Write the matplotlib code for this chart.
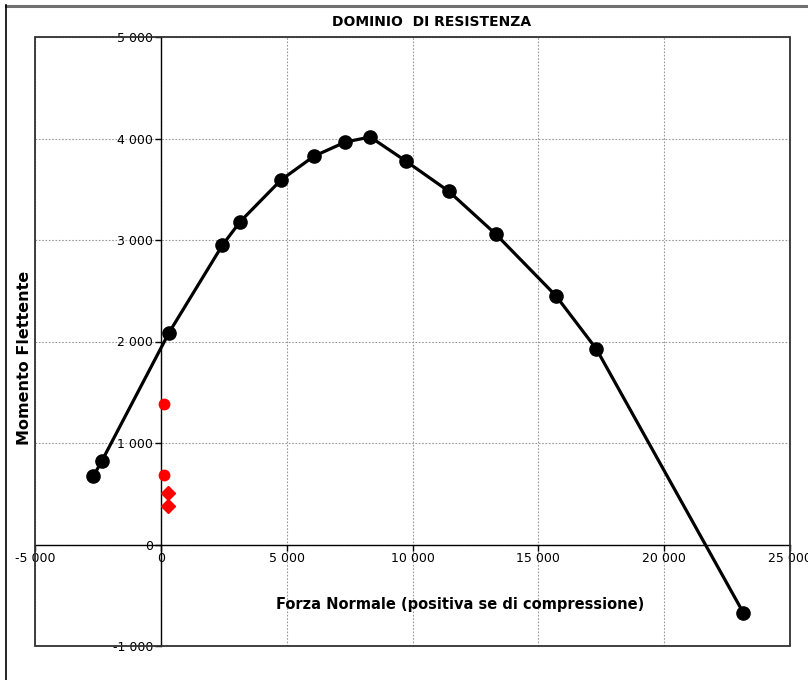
import matplotlib.pyplot as plt
from matplotlib.ticker import FuncFormatter, MultipleLocator
from matplotlib.patches import Rectangle
from matplotlib.lines import Line2D

# Dominio di resistenza (N, M)
forza_normale = [-2690, -2350, 320, 2450, 3150, 4770, 6080, 7330, 8320,
                 9750, 11440, 13320, 15700, 17310, 23140]
momento = [670, 820, 2085, 2950, 3180, 3590, 3825, 3965, 4015,
           3775, 3480, 3055, 2450, 1925, -670]

# Sollecitazioni di verifica
verifica_cerchi_n = [120, 120]
verifica_cerchi_m = [1385, 680]
verifica_rombi_n = [280, 280]
verifica_rombi_m = [505, 378]

plt.rcParams['font.family'] = ['DejaVu Sans']

def fmt_migliaia(v, pos):
    s = '{:,.0f}'.format(v).replace(',', ' ')
    return s

fig = plt.figure(figsize=(8.08, 6.8), dpi=100)

# bordo della figura (solo alto e sinistra visibili)
fig.add_artist(Line2D([5.5 / 808, 1], [1 - 5.5 / 680, 1 - 5.5 / 680],
                      color='#707070', lw=2.2, transform=fig.transFigure))
fig.add_artist(Line2D([5.5 / 808, 5.5 / 808], [0, 1 - 5 / 680],
                      color='black', lw=1.2, transform=fig.transFigure))

ax = fig.add_axes([35 / 808, 1 - 646 / 680, (790 - 35) / 808, (646 - 37) / 680])
ax.set_xlim(-5000, 25000)
ax.set_ylim(-1000, 5000)

ax.xaxis.set_major_locator(MultipleLocator(5000))
ax.yaxis.set_major_locator(MultipleLocator(1000))
ax.xaxis.set_major_formatter(FuncFormatter(fmt_migliaia))
ax.yaxis.set_major_formatter(FuncFormatter(fmt_migliaia))

ax.grid(True, color='#999999', linestyle=(0, (1.5, 1.5)), linewidth=0.8)
ax.set_axisbelow(True)

# assi passanti per lo zero
ax.spines['left'].set_position(('data', 0))
ax.spines['bottom'].set_position(('data', 0))
ax.spines['right'].set_visible(False)
ax.spines['top'].set_visible(False)
for s in ['left', 'bottom']:
    ax.spines[s].set_linewidth(1.0)
    ax.spines[s].set_zorder(1.5)
ax.tick_params(direction='out', length=4, width=1, labelsize=9, pad=1.5)

# cornice dell'area del grafico
ax.add_patch(Rectangle((0, 0), 1, 1, transform=ax.transAxes, fill=False,
                       edgecolor='#303030', lw=1.3, clip_on=False, zorder=3))

ax.plot(forza_normale, momento, color='black', lw=2.3, marker='o',
        markersize=9.5, zorder=4, clip_on=False)
ax.plot(verifica_cerchi_n, verifica_cerchi_m, linestyle='none', marker='o',
        color='red', markersize=7.5, zorder=5)
ax.plot(verifica_rombi_n, verifica_rombi_m, linestyle='none', marker='D',
        color='red', markersize=7, zorder=5)

fig.text(432 / 808, 1 - 22 / 680, 'DOMINIO  DI RESISTENZA', ha='center',
         va='center', fontsize=10, fontweight='bold')
fig.text(460 / 808, 1 - 605 / 680, 'Forza Normale (positiva se di compressione)',
         ha='center', va='center', fontsize=10.5, fontweight='bold')
fig.text(25 / 808, 1 - 358 / 680, 'Momento Flettente', ha='center',
         va='center', rotation=90, fontsize=11.5, fontweight='bold')

fig.savefig('out.png', dpi=100)
